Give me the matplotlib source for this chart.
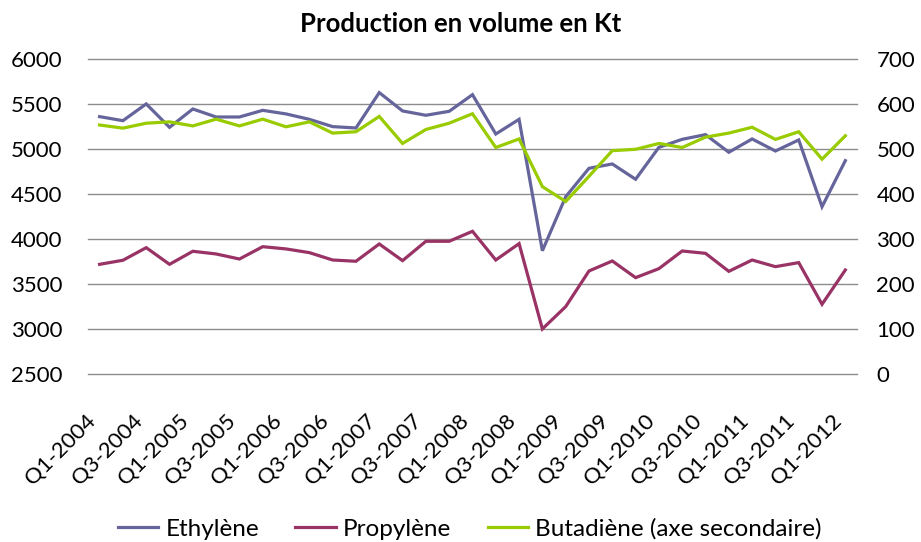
import matplotlib
matplotlib.use("Agg")
import matplotlib.pyplot as plt
from matplotlib.transforms import ScaledTranslation

plt.rcParams["font.family"] = ["Lato", "DejaVu Sans"]

# trimestres Q1-2004 .. Q1-2012
quarters = [f"Q{q}-{y}" for y in range(2004, 2013) for q in (1, 2, 3, 4)][:33]

ethylene = [5363, 5318, 5504, 5244, 5448, 5359, 5359, 5433, 5393, 5333,
            5252, 5237, 5630, 5426, 5378, 5422, 5607, 5170, 5333, 3873,
            4473, 4789, 4837, 4667, 5022, 5111, 5163, 4967, 5115, 4981,
            5104, 4362, 4874]
propylene = [3722, 3767, 3907, 3722, 3867, 3837, 3781, 3918, 3893, 3852,
             3770, 3756, 3948, 3763, 3978, 3978, 4089, 3770, 3952, 3004,
             3252, 3648, 3759, 3574, 3674, 3870, 3844, 3644, 3770, 3696,
             3741, 3278, 3659]
butadiene = [554, 547, 558, 561, 552, 567, 552, 567, 550, 561,
             536, 539, 573, 513, 544, 558, 579, 504, 523, 417,
             384, 440, 497, 500, 513, 504, 527, 536, 549, 522,
             539, 478, 530]

left_ticks = [2500, 3000, 3500, 4000, 4500, 5000, 5500, 6000]
right_ticks = [0, 100, 200, 300, 400, 500, 600, 700]

C_ETH = "#65659C"
C_PRO = "#993366"
C_BUT = "#99CC00"

fig = plt.figure(figsize=(9.21, 5.42), dpi=100)
ax = fig.add_axes([0.0955, 0.3094, 0.835, 0.5812])
ax2 = ax.twinx()

x = list(range(len(quarters)))
l1, = ax.plot(x, ethylene, color=C_ETH, lw=2.3, label="Ethylène", solid_joinstyle="miter")
l2, = ax.plot(x, propylene, color=C_PRO, lw=2.3, label="Propylène", solid_joinstyle="miter")
l3, = ax2.plot(x, butadiene, color=C_BUT, lw=2.3, label="Butadiène (axe secondaire)",
               solid_joinstyle="miter")

ax.set_ylim(2500, 6000)
ax2.set_ylim(0, 700)
ax.set_yticks(left_ticks)
ax2.set_yticks(right_ticks)
ax.set_xlim(-0.5, len(quarters) - 0.5)
ax.set_xticks(x[::2])
ax.set_xticklabels(quarters[::2], rotation=45, ha="right", rotation_mode="anchor")

ax.grid(axis="y", color="#8C8C8C", lw=1)
ax.set_axisbelow(True)
for gl in ax.get_ygridlines():
    gl.set_clip_on(False)
for a in (ax, ax2):
    for s in a.spines.values():
        s.set_visible(False)
    a.tick_params(length=0, labelsize=16, colors="black")
ax.tick_params(axis="y", pad=18.5)
ax.tick_params(axis="x", pad=26)
ax2.tick_params(axis="y", pad=14)

# decaler les etiquettes de l'axe x vers la gauche
shift = ScaledTranslation(-14 / 100, 0, fig.dpi_scale_trans)
for lab in ax.get_xticklabels():
    lab.set_transform(lab.get_transform() + shift)

fig.suptitle("Production en volume en Kt", fontsize=18.5, fontweight="bold", y=0.978)

fig.legend(handles=[l1, l2, l3], loc="center", ncol=3, frameon=False,
           fontsize=17.5, bbox_to_anchor=(0.51, 0.024), handlelength=1.65,
           columnspacing=1.5, handletextpad=0.3)

fig.savefig("out.png", dpi=100)
